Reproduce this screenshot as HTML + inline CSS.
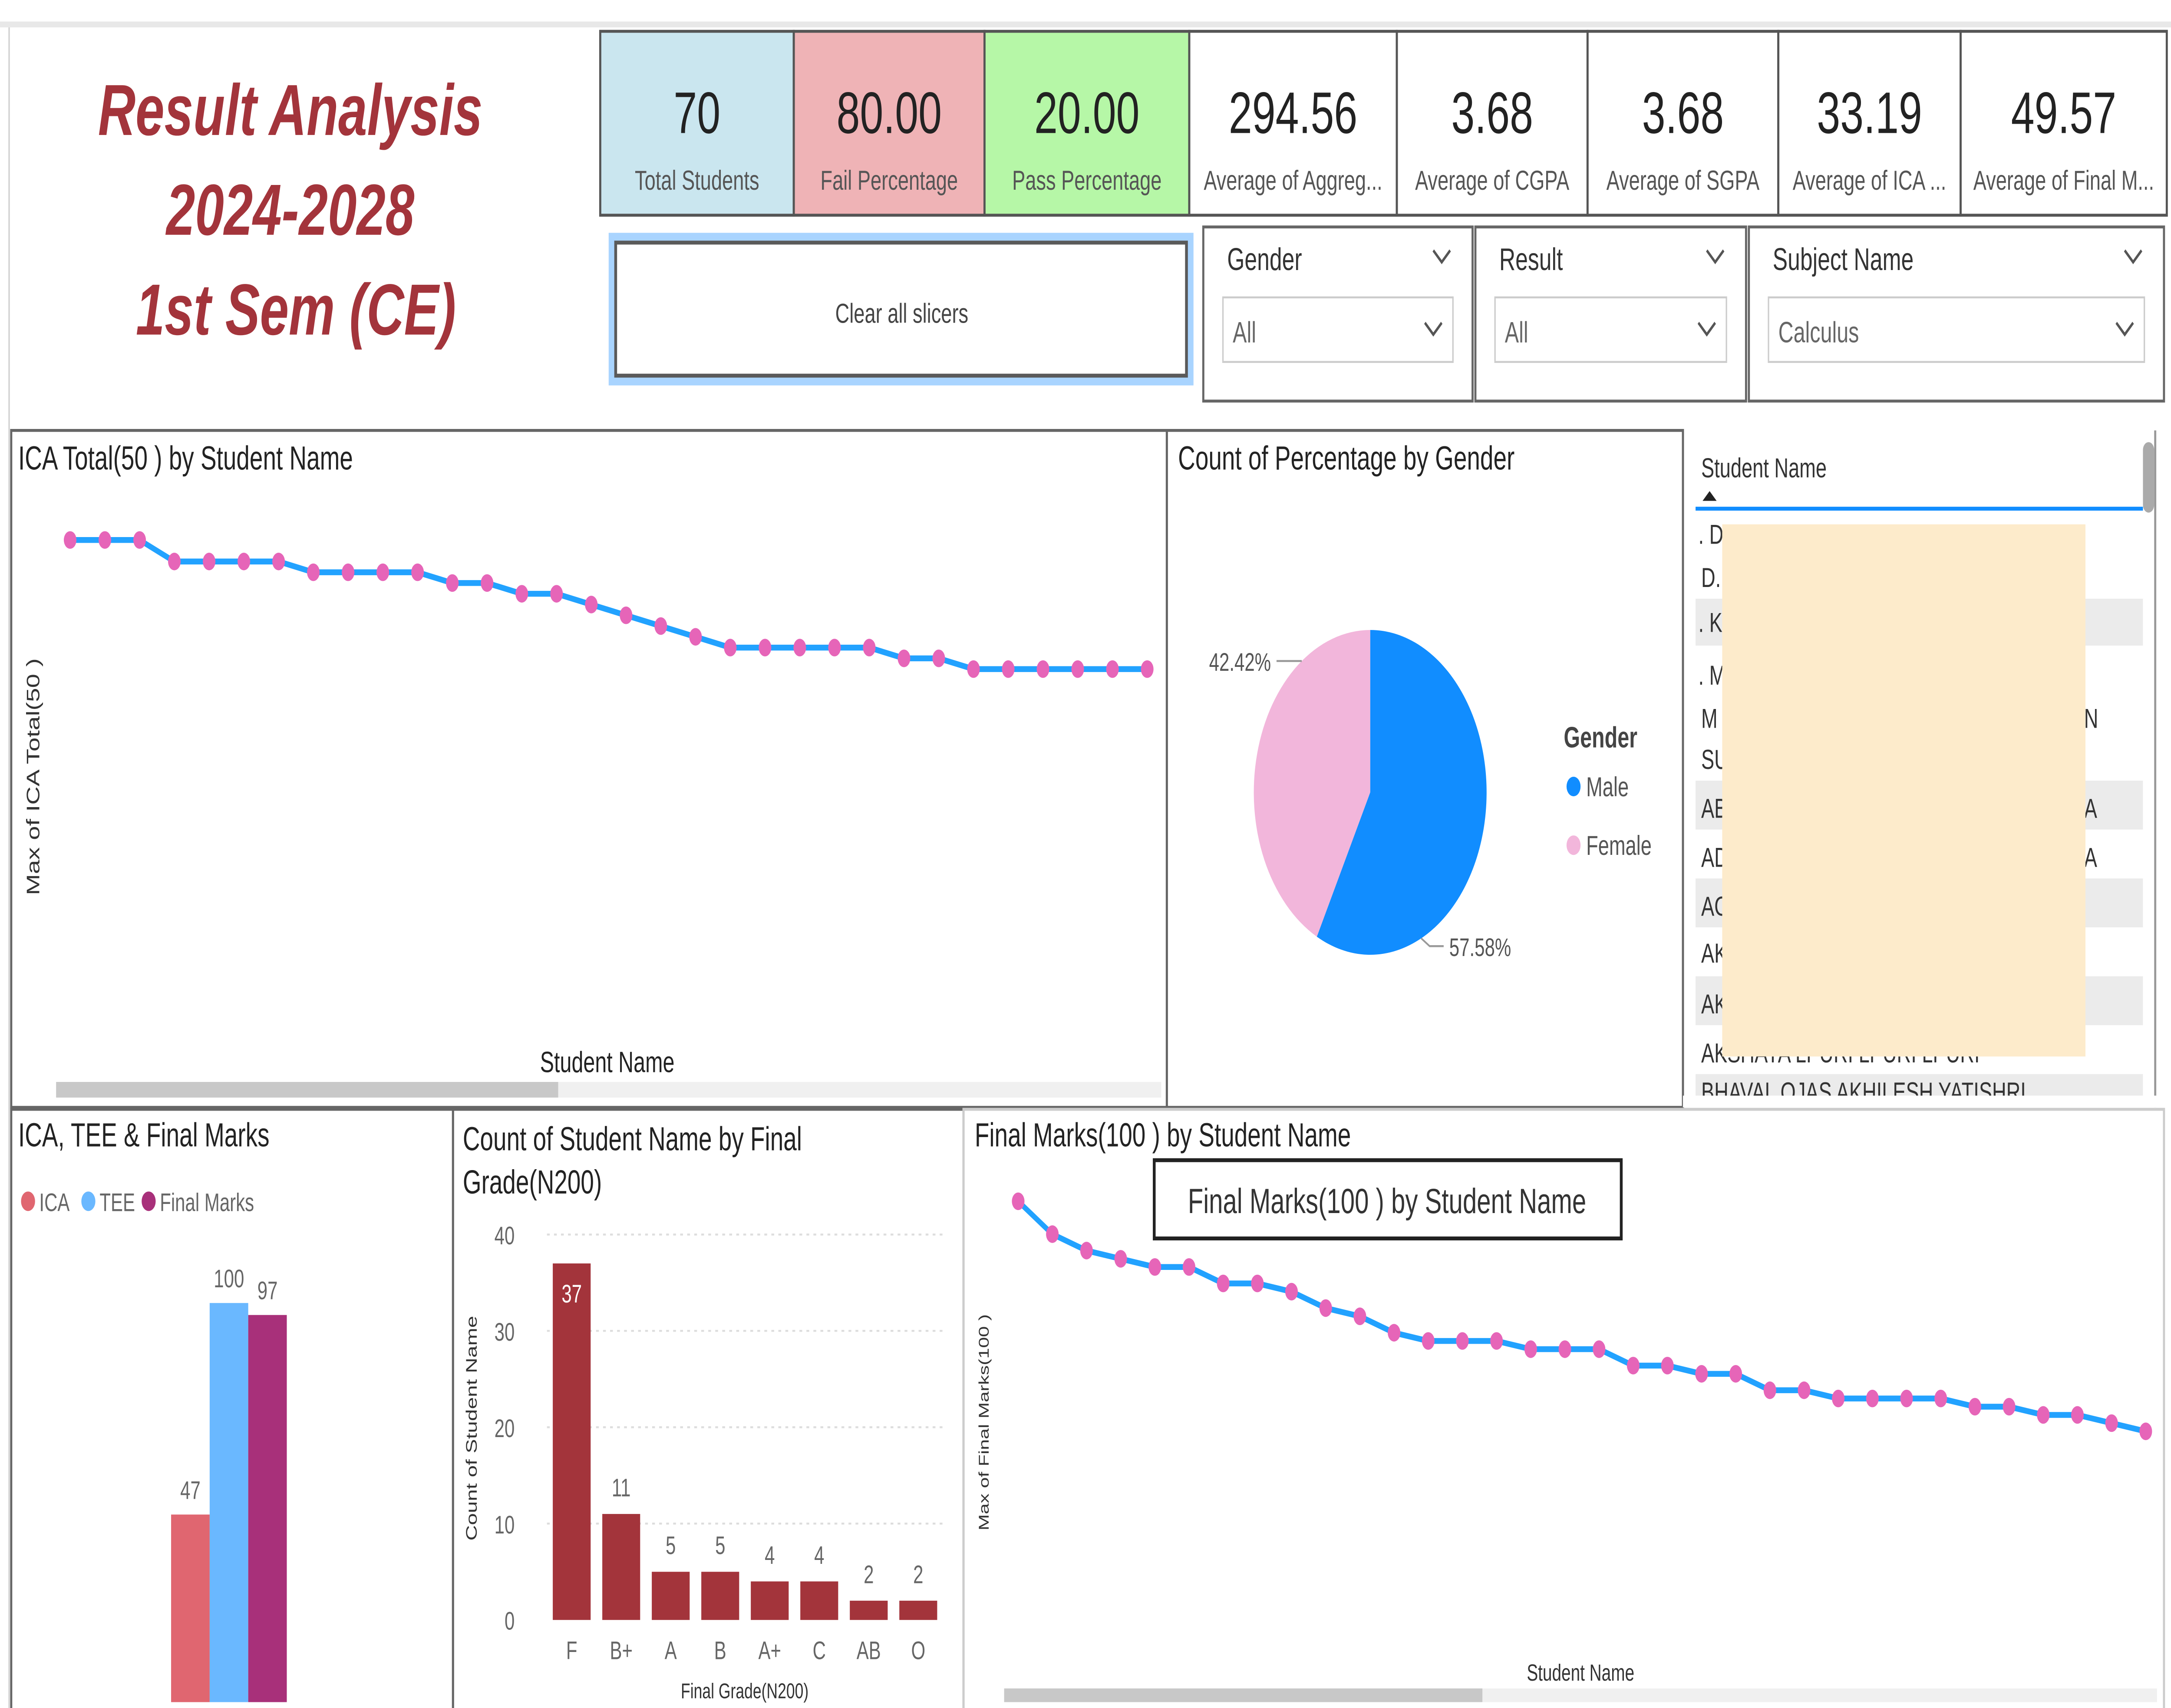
<!DOCTYPE html>
<html><head><meta charset="utf-8">
<style>
html,body{margin:0;padding:0;background:#fff;width:100%;height:100%;overflow:hidden;}
svg{display:block;width:100vw;height:100vh;font-family:"Liberation Sans",sans-serif;}
</style></head>
<body>
<svg id="dash" viewBox="0 0 1548 873" preserveAspectRatio="none" xmlns="http://www.w3.org/2000/svg">
<rect x="0" y="0" width="1548" height="873" fill="#fff"/>
<rect x="0" y="11" width="1548" height="3" fill="#e8e8e8"/>
<rect x="6" y="14" width="1" height="860" fill="#d0d0d0"/>
<line x1="0" y1="878" x2="1548" y2="878" stroke="#999" stroke-dasharray="2,2"/>

<g fill="#a3343b" font-weight="bold" font-style="italic" font-size="37" text-anchor="middle">
<text x="207" y="69">Result Analysis</text>
<text x="207" y="120">2024-2028</text>
<text x="211" y="171">1st Sem (CE)</text>
</g>

<g id="kpis"></g>

<g>
<rect x="437" y="122" width="411" height="72" fill="#fff" stroke="#a9d4ff" stroke-width="6"/>
<rect x="439" y="124" width="407" height="68" fill="#fff" stroke="#5a5a5a" stroke-width="2"/>
<text x="643" y="165" font-size="14" fill="#444" text-anchor="middle">Clear all slicers</text>
</g>

<g id="slicers"></g>

<g fill="none" stroke="#666" stroke-width="1.5">
<rect x="8" y="220" width="824" height="346"/>
<rect x="832" y="220" width="368" height="346"/>
<rect x="8" y="567" width="315" height="310"/>
<rect x="323" y="567" width="364" height="310"/>
<rect x="687" y="567" width="856" height="310" stroke="#ccc"/>
</g>

<g>
<text x="13" y="240" font-size="17" fill="#222">ICA Total(50 ) by Student Name</text>
<text transform="translate(28,397) rotate(-90)" font-size="13" fill="#333" text-anchor="middle">Max of ICA Total(50 )</text>
<text x="433" y="548" font-size="15" fill="#222" text-anchor="middle">Student Name</text>
<rect x="40" y="553" width="788" height="8" fill="#f0f0f0"/>
<rect x="40" y="553" width="358" height="8" fill="#c8c8c8"/>
<g id="icaLine"></g>
</g>

<g>
<text x="840" y="240" font-size="17" fill="#222">Count of Percentage by Gender</text>
<g id="pie"></g>
<text x="1115" y="382" font-size="15" font-weight="bold" fill="#444">Gender</text>
<circle cx="1122" cy="402" r="5" fill="#118dff"/>
<text x="1131" y="407" font-size="14" fill="#555">Male</text>
<circle cx="1122" cy="432" r="5" fill="#f2b6db"/>
<text x="1131" y="437" font-size="14" fill="#555">Female</text>
</g>

<g font-size="14" fill="#333">
<text x="1213" y="244">Student Name</text>
<path d="M1214,256 L1219,251 L1224,256 Z" fill="#222"/>
<rect x="1209" y="259" width="319" height="2" fill="#118dff"/>
<rect x="1528" y="226" width="8" height="36" rx="4" fill="#aaa"/>
<rect x="1536" y="220" width="1.5" height="346" fill="#999"/>
<g fill="#ebebeb">
<rect x="1209" y="306" width="319" height="24"/>
<rect x="1209" y="399" width="319" height="25"/>
<rect x="1209" y="449" width="319" height="25"/>
<rect x="1209" y="499" width="319" height="25"/>
<rect x="1209" y="549" width="319" height="15"/>
</g>
<text x="1211" y="278">. D VARSHINI D MADHUSUDHAN GOUD</text>
<text x="1213" y="300">D.</text>
<text x="1211" y="323">. K</text>
<text x="1211" y="350">. M</text>
<text x="1213" y="372">M</text><text x="1486" y="372">N</text>
<text x="1213" y="393">SU</text>
<text x="1213" y="418">AB</text><text x="1486" y="418">A</text>
<text x="1213" y="443">AD</text><text x="1486" y="443">A</text>
<text x="1213" y="468">AG</text>
<text x="1213" y="492">AK</text>
<text x="1213" y="518">AK</text>
<text x="1213" y="543">AKSHAYA LPURI LPURI LPURI</text>
<text x="1213" y="563">BHAVAL OJAS AKHILESH YATISHRI</text>
<rect x="1200" y="560" width="340" height="6" fill="#fff"/>
<rect x="1228" y="268" width="259" height="272" fill="#fdebcb"/>
</g>

<g>
<text x="13" y="586" font-size="17" fill="#222">ICA, TEE &amp; Final Marks</text>
<circle cx="20" cy="614" r="5" fill="#e06670"/><text x="28" y="619" font-size="13" fill="#666">ICA</text>
<circle cx="63" cy="614" r="5" fill="#6ab8ff"/><text x="71" y="619" font-size="13" fill="#666">TEE</text>
<circle cx="106" cy="614" r="5" fill="#a8307a"/><text x="114" y="619" font-size="13" fill="#666">Final Marks</text>
<g id="cmpBars"></g>
</g>

<g>
<text x="330" y="588" font-size="17" fill="#222">Count of Student Name by Final</text>
<text x="330" y="610" font-size="17" fill="#222">Grade(N200)</text>
<text transform="translate(340,730) rotate(-90)" font-size="11" fill="#333" text-anchor="middle">Count of Student Name</text>
<text x="531" y="868" font-size="11" fill="#333" text-anchor="middle">Final Grade(N200)</text>
<g id="gradeBars"></g>
</g>

<g>
<text x="695" y="586" font-size="17" fill="#222">Final Marks(100 ) by Student Name</text>
<text transform="translate(705,727) rotate(-90)" font-size="10" fill="#333" text-anchor="middle">Max of Final Marks(100 )</text>
<text x="1127" y="859" font-size="12" fill="#333" text-anchor="middle">Student Name</text>
<rect x="716" y="863" width="822" height="7" fill="#f0f0f0"/>
<rect x="716" y="863" width="341" height="7" fill="#c8c8c8"/>
<g id="finLine"></g>
<g>
<rect x="823" y="593" width="333" height="40" fill="#fff" stroke="#222" stroke-width="2"/>
<text x="989" y="620" font-size="18" fill="#333" text-anchor="middle">Final Marks(100 ) by Student Name</text>
</g>
</g>

<script>
const NS="http://www.w3.org/2000/svg";
function mk(tag,attrs,parent){const e=document.createElementNS(NS,tag);for(const k in attrs)e.setAttribute(k,attrs[k]);parent.appendChild(e);return e;}

const kpiValues=["70","80.00","20.00","294.56","3.68","3.68","33.19","49.57"];
const kpiLabels=["Total Students","Fail Percentage","Pass Percentage","Average of Aggreg...","Average of CGPA","Average of SGPA","Average of ICA ...","Average of Final M..."];
const kpiEdges=[428,566,702,848,996,1132,1268,1398,1545];
const kpiFills=["#cae6ef","#efb3b6","#b6f7a7","#fff","#fff","#fff","#fff","#fff"];
const kg=document.getElementById('kpis');
kpiValues.forEach((v,i)=>{
  const x0=kpiEdges[i],x1=kpiEdges[i+1],cx=(x0+x1)/2;
  const g=mk('g',{},kg);
  
  
  mk('rect',{x:x0,y:16,width:x1-x0,height:94,fill:kpiFills[i],stroke:"#555","stroke-width":1.5},g);
  const t=mk('text',{x:cx,y:68,"font-size":30,fill:"#222","text-anchor":"middle"},g);t.textContent=v;
  const l=mk('text',{x:cx,y:97,"font-size":14,fill:"#555","text-anchor":"middle"},g);l.textContent=kpiLabels[i];
});

const slicerTitles=["Gender","Result","Subject Name"];
const slicerValues=["All","All","Calculus"];
const slicerEdges=[858,1052,1247,1545];
const sg=document.getElementById('slicers');
slicerTitles.forEach((s,i)=>{
  const x0=slicerEdges[i],x1=slicerEdges[i+1]-2;
  const g=mk('g',{},sg);
  
  
  mk('rect',{x:x0,y:116,width:x1-x0,height:89,fill:"#fff",stroke:"#666","stroke-width":1.5},g);
  const t=mk('text',{x:x0+17,y:138,"font-size":16,fill:"#333"},g);t.textContent=s;
  mk('path',{d:`M${x1-28},128 l6,6 l6,-6`,fill:"none",stroke:"#555","stroke-width":1.5},g);
  mk('rect',{x:x0+14,y:152,width:x1-x0-28,height:33,fill:"#fff",stroke:"#ccc"},g);
  const v=mk('text',{x:x0+21,y:175,"font-size":15,fill:"#666"},g);v.textContent=slicerValues[i];
  mk('path',{d:`M${x1-34},165 l6,6 l6,-6`,fill:"none",stroke:"#555","stroke-width":1.5},g);
});

const icaValues=[47,47,47,45,45,45,45,44,44,44,44,43,43,42,42,41,40,39,38,37,37,37,37,37,36,36,35,35,35,35,35,35];
const icaX=i=>50+i*(818-50)/(icaValues.length-1);
const icaY=v=>534.5-v*5.5;
(function(){
  const g=document.getElementById('icaLine');
  const p=mk('polyline',{points:icaValues.map((v,i)=>icaX(i)+","+icaY(v)).join(" "),fill:"none",stroke:"#22a2ff","stroke-width":3},g);
  
  
  icaValues.forEach((v,i)=>{
    const c=mk('circle',{cx:icaX(i),cy:icaY(v),r:4.5,fill:"#e665b8"},g);
    
    
  });
})();

const pieLabels=["Male","Female"];
const pieValues=[57.58,42.42];
const pieColors=["#118dff","#f2b6db"];
// label anchor angles (degrees, layout only) matching Power BI placement
const pieLabelAngles=[64,-126];
(function(){
  const g=document.getElementById('pie');
  const cx=977,cy=405,r=83;const tot=pieValues.reduce((a,b)=>a+b,0);
  let a=-Math.PI/2;
  pieValues.forEach((v,i)=>{
    const a2=a+v/tot*2*Math.PI;
    const large=(a2-a)>Math.PI?1:0;
    const d=`M${cx},${cy} L${cx+r*Math.cos(a)},${cy+r*Math.sin(a)} A${r},${r} 0 ${large} 1 ${cx+r*Math.cos(a2)},${cy+r*Math.sin(a2)} Z`;
    const s=mk('path',{d:d,fill:pieColors[i]},g);
    
    
    const la=pieLabelAngles[i]*Math.PI/180;
    const px=cx+r*Math.cos(la),py=cy+r*Math.sin(la);
    const right=Math.cos(la)>0;
    const ex=px+(right?6:-6),ey=py+(right?4:0);
    const lx=ex+(right?10:-12);
    mk('polyline',{points:`${px},${py} ${ex},${ey} ${lx},${ey}`,fill:"none",stroke:"#999"},g);
    const t=mk('text',{x:lx+(right?4:-4),y:ey+5,"font-size":13,fill:"#555","text-anchor":right?"start":"end"},g);
    t.textContent=v.toFixed(2)+"%";
    
    
    a=a2;
  });
})();

const cmpCats=["ICA","TEE","Final Marks"];
const cmpValues=[47,100,97];
const cmpColors=["#e06670","#6ab8ff","#a8307a"];
(function(){
  const g=document.getElementById('cmpBars');
  const base=870,k=2.04,x0=122,w=27.5;
  cmpValues.forEach((v,i)=>{
    const b=mk('rect',{x:x0+i*w,y:base-v*k,width:w,height:v*k,fill:cmpColors[i]},g);
    
    
    const t=mk('text',{x:x0+i*w+w/2,y:base-v*k-8,"font-size":13,fill:"#666","text-anchor":"middle"},g);t.textContent=v;
  });
})();

const gradeCats=["F","B+","A","B","A+","C","AB","O"];
const gradeCounts=[37,11,5,5,4,4,2,2];
const gradeTicks=[0,10,20,30,40];
(function(){
  const g=document.getElementById('gradeBars');
  const base=828,k=4.925,left=390,band=35.3,bw=27;
  const y=v=>base-v*k;
  gradeTicks.forEach(t=>{
    if(t>0)mk('line',{x1:left,x2:675,y1:y(t),y2:y(t),stroke:"#ddd","stroke-dasharray":"2,3"},g);
    const l=mk('text',{x:367,y:y(t)+5,"font-size":13,fill:"#666","text-anchor":"end"},g);l.textContent=t;
  });
  gradeCounts.forEach((v,i)=>{
    const cx=left+band*(i+0.5);
    const b=mk('rect',{x:cx-bw/2,y:y(v),width:bw,height:v*k,fill:"#a3343b"},g);
    
    
    const inside=v>20;
    const t=mk('text',{x:cx,y:inside?y(v)+20:y(v)-9,"font-size":13,fill:inside?"#fff":"#666","text-anchor":"middle"},g);t.textContent=v;
    const c=mk('text',{x:cx,y:848,"font-size":13,fill:"#666","text-anchor":"middle"},g);c.textContent=gradeCats[i];
  });
})();

const finValues=[97,93,91,90,89,89,87,87,86,84,83,81,80,80,80,79,79,79,77,77,76,76,74,74,73,73,73,73,72,72,71,71,70,69];
const finX=i=>726+i*(1530-726)/(finValues.length-1);
const finY=v=>614+(97-v)*4.2;
(function(){
  const g=document.getElementById('finLine');
  const p=mk('polyline',{points:finValues.map((v,i)=>finX(i)+","+finY(v)).join(" "),fill:"none",stroke:"#22a2ff","stroke-width":3},g);
  
  
  finValues.forEach((v,i)=>{
    const c=mk('circle',{cx:finX(i),cy:finY(v),r:4.5,fill:"#e665b8"},g);
    
    
  });
})();
</script>
</svg>
</body></html>
